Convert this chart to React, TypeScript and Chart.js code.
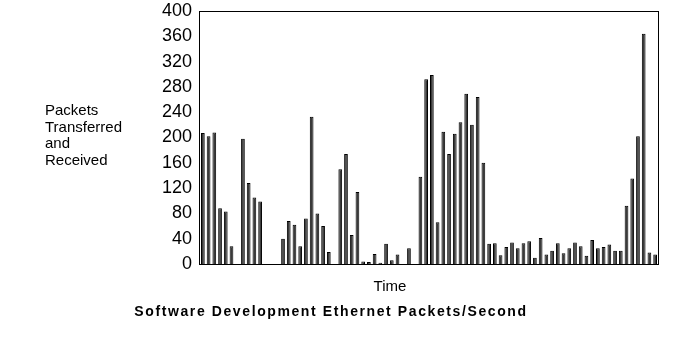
import React, { useEffect, useRef } from "react";
import { Chart, registerables } from "chart.js";

Chart.register(...registerables);

const packets: number[] = [
  207, 202, 208, 88, 83, 28, 0, 198, 128, 105,
  99, 0, 0, 0, 40, 68, 62, 28, 72, 233,
  80, 60, 19, 0, 150, 174, 46, 114, 4, 3,
  16, 2, 32, 6, 15, 0, 25, 0, 138, 292,
  299, 66, 209, 174, 206, 224, 269, 220, 264, 160,
  32, 33, 14, 27, 34, 25, 33, 36, 10, 41,
  15, 21, 33, 17, 25, 34, 28, 13, 38, 25,
  27, 31, 21, 21, 92, 135, 202, 364, 18, 15,
];
const timeLabels: string[] = packets.map((_, i) => String(i + 1));
const yTicks = { min: 0, max: 400, step: 40 };
const yTitleLines: string[] = ["Packets", "Transferred", "and", "Received"];
const xTitle = "Time";
const chartTitle = "Software Development Ethernet Packets/Second";

const FONT = "'Liberation Sans', Arial, Helvetica, sans-serif";

export default function App() {
  const ref = useRef<HTMLCanvasElement | null>(null);

  useEffect(() => {
    document.body.style.margin = "0";
    const canvas = ref.current;
    if (!canvas) return;

    const textPlugin = {
      id: "texts",
      afterDraw(chart: any) {
        const ctx = chart.ctx as CanvasRenderingContext2D;
        const a = chart.chartArea;
        ctx.save();
        // frame
        ctx.strokeStyle = "#000";
        ctx.lineWidth = 1;
        ctx.strokeRect(Math.round(a.left) - 0.5, Math.round(a.top) + 0.5, Math.round(a.right - a.left) + 1, Math.round(a.bottom - a.top));
        // y title
        ctx.fillStyle = "#000";
        ctx.font = `15px ${FONT}`;
        ctx.textAlign = "left";
        ctx.textBaseline = "middle";
        yTitleLines.forEach((l, i) => ctx.fillText(l, 45, 111 + i * 16.5));
        // x title
        ctx.textAlign = "center";
        ctx.fillText(xTitle, 390, 287);
        // chart title
        ctx.font = `bold 14px ${FONT}`;
        (ctx as any).letterSpacing = "1.6px";
        ctx.fillText(chartTitle, 331, 312);
        ctx.restore();
      },
    };

    const chart = new Chart(canvas, {
      type: "bar",
      data: {
        labels: timeLabels,
        datasets: [
          {
            data: packets,
            backgroundColor: "#3a3a3a",
            borderColor: "#000",
            borderWidth: 1,
            barPercentage: 0.65,
            categoryPercentage: 1,
          },
        ],
      },
      options: {
        animation: false,
        responsive: false,
        maintainAspectRatio: false,
        layout: { padding: { left: 0, right: 18, top: 11, bottom: 94 } },
        plugins: { legend: { display: false }, tooltip: { enabled: false }, title: { display: false } },
        scales: {
          x: { display: false, offset: true, grid: { display: false } },
          y: {
            min: yTicks.min,
            max: yTicks.max,
            grid: { display: false, drawTicks: false },
            border: { display: false },
            ticks: {
              stepSize: yTicks.step,
              color: "#000",
              padding: 8,
              font: { family: FONT, size: 18 },
            },
            afterFit(scale: any) {
              scale.width = 200;
              scale.paddingTop = 0;
              scale.paddingBottom = 0;
            },
          },
        },
      },
      plugins: [textPlugin],
    });
    return () => chart.destroy();
  }, []);

  return (
    <div style={{ width: 676, height: 358 }}>
      <canvas ref={ref} width={676} height={358} style={{ display: "block" }} />
    </div>
  );
}
